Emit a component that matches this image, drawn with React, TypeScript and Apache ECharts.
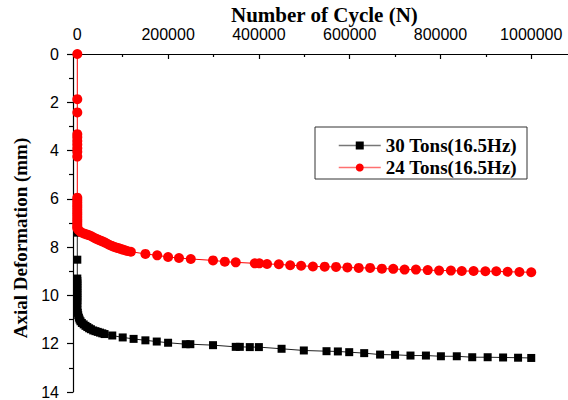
import React, { useEffect, useRef } from "react";
import * as echarts from "echarts";

const seriesNames = ["30 Tons(16.5Hz)", "24 Tons(16.5Hz)"];
const xTitle = "Number of Cycle (N)";
const yTitle = "Axial Deformation (mm)";

const xTickValues = [0, 200000, 400000, 600000, 800000, 1000000];
const xMinorTickValues = [100000, 300000, 500000, 700000, 900000];

const cycles30 = [
  0, 0, 0, 0, 0, 0,
  0, 0, 0, 0, 0, 0, 0, 0, 0, 0, 0, 0, 0,
  1000, 2000, 3500, 5000, 7000, 10000, 14000, 18000, 22000, 26000,
  30000, 35000, 40000, 45000, 50000, 55000, 60000, 77000, 100000, 124000,
  150000, 175000, 200000, 239000, 249000, 299000, 349000, 358000, 380000, 400000,
  450000, 499000, 549000, 574000, 599000, 632000, 667000, 700000, 734000, 768000,
  801000, 836000, 870000, 904000, 938000, 971000, 1000000,
];
const deform30 = [
  6.6, 6.8, 7.0, 7.2, 7.4, 8.52,
  9.3, 9.4, 9.5, 9.6, 9.7, 9.8, 9.9, 10.0, 10.1, 10.2, 10.3, 10.45, 10.6,
  10.72, 10.82, 10.92, 11.0, 11.07, 11.14, 11.2, 11.26, 11.31, 11.36,
  11.4, 11.45, 11.48, 11.51, 11.54, 11.57, 11.6, 11.66, 11.74, 11.8,
  11.86, 11.91, 11.96, 12.02, 12.02, 12.06, 12.13, 12.13, 12.14, 12.14,
  12.21, 12.28, 12.31, 12.32, 12.35, 12.39, 12.45, 12.46, 12.49, 12.49,
  12.52, 12.52, 12.56, 12.56, 12.57, 12.58, 12.59,
];

const cycles24 = [
  0, 0, 0, 0, 0, 0, 0, 0, 0, 0,
  0, 0, 0, 0, 0, 0, 0, 0, 0, 0, 0, 0, 0, 0,
  3000, 8000, 14000, 20000, 25000, 30000, 35000, 40000, 45000, 50000, 55000, 60000,
  65000, 70000, 75000, 80000, 85000, 90000, 95000, 100000, 105000, 110000, 118000,
  150000, 176000, 200000, 224000, 250000, 299000, 325000, 349000, 391000, 401000,
  418000, 444000, 469000, 493000, 519000, 545000, 570000, 595000, 620000, 645000,
  671000, 696000, 721000, 746000, 772000, 797000, 823000, 847000, 873000, 899000,
  923000, 948000, 974000, 1000000,
];
const deform24 = [
  0, 1.87, 2.42, 3.32, 3.45, 3.6, 3.75, 3.9, 4.05, 4.25,
  5.95, 6.05, 6.15, 6.25, 6.35, 6.45, 6.55, 6.65, 6.75, 6.85, 6.95, 7.05, 7.15, 7.22,
  7.3, 7.38, 7.43, 7.47, 7.5, 7.54, 7.59, 7.64, 7.68, 7.72, 7.76, 7.8,
  7.85, 7.9, 7.94, 7.98, 8.01, 8.04, 8.07, 8.1, 8.13, 8.16, 8.19,
  8.28, 8.34, 8.41, 8.45, 8.49, 8.55, 8.6, 8.63, 8.67, 8.67,
  8.7, 8.71, 8.75, 8.77, 8.8, 8.81, 8.82, 8.84, 8.86, 8.86,
  8.89, 8.9, 8.93, 8.93, 8.95, 8.97, 8.97, 8.99, 8.99, 9.0,
  9.0, 9.02, 9.03, 9.04,
];

const zip = (xs: number[], ys: number[]) => xs.map((x, i) => [x, ys[i]]);

export default function App() {
  const ref = useRef<HTMLDivElement>(null);
  useEffect(() => {
    document.body.style.margin = "0";
    if (!ref.current) return;
    const chart = echarts.init(ref.current, null, { renderer: "svg" });
    const sans = "Liberation Sans";
    const serif = "Liberation Serif";
    const xMin = -9500;
    const xMax = 1081000;
    chart.setOption({
      animation: false,
      backgroundColor: "#ffffff",
      grid: { left: 73, top: 54, right: 0, bottom: 8, containLabel: false },
      legend: {
        left: 315,
        top: 127,
        orient: "vertical",
        itemWidth: 42,
        itemHeight: 10,
        itemGap: 3,
        padding: [9, 10, 2, 23],
        borderColor: "#333",
        borderWidth: 1,
        textStyle: {
          fontFamily: serif,
          fontWeight: "bold",
          fontSize: 19,
          lineHeight: 18,
          color: "#000",
        },
        data: [
          { name: seriesNames[0], lineStyle: { color: "#777", width: 1.5 } },
          { name: seriesNames[1], lineStyle: { color: "#ff7070", width: 1.5 } },
        ],
      },
      xAxis: [
        {
          type: "value",
          position: "top",
          min: xMin,
          max: xMax,
          splitLine: { show: false },
          axisLine: { show: true, onZero: false, lineStyle: { color: "#000", width: 1.2 } },
          axisTick: {
            show: true,
            inside: true,
            length: 5,
            customValues: xTickValues,
            lineStyle: { color: "#000", width: 1.2 },
          },
          axisLabel: {
            customValues: xTickValues,
            formatter: (v: number) => String(v),
            fontFamily: sans,
            fontSize: 16,
            color: "#000",
            margin: 12,
          },
        },
        {
          type: "value",
          position: "top",
          min: xMin,
          max: xMax,
          splitLine: { show: false },
          axisLine: { show: false },
          axisTick: {
            show: true,
            inside: true,
            length: 3,
            customValues: xMinorTickValues,
            lineStyle: { color: "#000", width: 1.2 },
          },
          axisLabel: { show: false },
        },
      ],
      yAxis: {
        type: "value",
        inverse: true,
        min: 0,
        max: 14,
        interval: 2,
        splitLine: { show: false },
        axisLine: { show: true, onZero: false, lineStyle: { color: "#000", width: 1.2 } },
        axisTick: { show: true, inside: false, length: 6, lineStyle: { color: "#000", width: 1.2 } },
        minorTick: { show: true, splitNumber: 2, length: 4, lineStyle: { color: "#000", width: 1.2 } },
        axisLabel: { fontFamily: sans, fontSize: 16, color: "#000", margin: 14 },
      },
      graphic: [
        {
          type: "text",
          left: 231,
          top: 4,
          style: {
            text: xTitle,
            fontFamily: serif,
            fontWeight: "bold",
            fontSize: 21,
            fill: "#000",
          },
        },
        {
          type: "text",
          x: 20,
          y: 238,
          rotation: Math.PI / 2,
          style: {
            text: yTitle,
            fontFamily: serif,
            fontWeight: "bold",
            fontSize: 19,
            fill: "#000",
            align: "center",
            verticalAlign: "middle",
          },
        },
      ],
      series: [
        {
          name: seriesNames[0],
          type: "line",
          xAxisIndex: 0,
          data: zip(cycles30, deform30),
          symbol: "rect",
          symbolSize: 8,
          itemStyle: { color: "#000" },
          lineStyle: { color: "#222", width: 1 },
        },
        {
          name: seriesNames[1],
          type: "line",
          xAxisIndex: 0,
          data: zip(cycles24, deform24),
          symbol: "circle",
          symbolSize: 10,
          itemStyle: { color: "#ff0000" },
          lineStyle: { color: "#ff0000", width: 1 },
        },
      ],
    });
    return () => chart.dispose();
  }, []);
  return <div ref={ref} style={{ width: 568, height: 400 }} />;
}
